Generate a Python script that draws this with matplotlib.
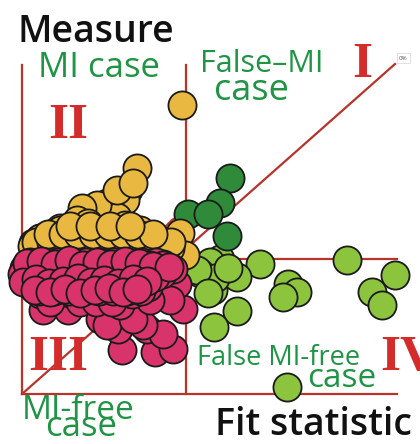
import matplotlib.pyplot as plt
import numpy as np

# quadrant scatter: measure vs fit statistic (units)
yellow_x = [160, 115, 106, 103, 85, 95, 75, 60, 55, 66, 78, 98, 115, 118, 61, 45, 31, 11, 120, 138,
            158, 163, 103, 26, 73, 88, 133, 148, 18, 38, 108, 95, 111,
            18, 33, 48, 63, 78, 93, 108, 123, 10, 25, 40, 55, 70, 85, 100, 115, 130, 145,
            38, 58, 78, 98, 118,
            14, 29, 44, 59, 74, 89, 104, 119, 134, 149,
            26, 41, 56, 71, 86, 101, 116, 131,
            48, 68, 88, 108]
yellow_y = [289, 226, 204, 194, 191, 177, 189, 186, 174, 171, 164, 159, 164, 151, 156, 154, 161, 151, 156, 154,
            161, 139, 169, 149, 149, 152, 144, 146, 156, 166, 146, 204, 211,
            156, 156, 156, 156, 156, 156, 156, 156, 148, 148, 148, 148, 148, 148, 148, 148, 148, 148,
            164, 164, 164, 164, 164,
            152, 152, 152, 152, 152, 152, 152, 152, 152, 152,
            160, 160, 160, 160, 160, 160, 160, 160,
            168, 168, 168, 168]

pink_x = [100, 133, 151, 96, 125, 141, 161, 136, 155, 151, 141, 46, 21, 78, 85, 121, 111, 148, 128, 98,
          8, 22, 36, 50, 64, 78, 92, 106, 120, 134,
          2, 16, 30, 44, 58, 72, 86, 100, 114, 128, 144,
          0, 13, 27, 41, 55, 69, 83, 97, 111, 125, 140,
          3, 17, 31, 45, 59, 73, 87, 101, 115, 129,
          10, 25, 40, 55, 70, 84, 98, 112, 126,
          18, 34, 50, 66, 82, 96, 110,
          28, 58, 74, 90,
          15, 29, 43, 57, 71, 85, 99, 113, 127, 141,
          9, 23, 37, 51, 65, 79, 93, 107, 121, 135,
          6, 20, 34, 48, 62, 76, 90, 104, 118, 133,
          10, 24, 38, 52, 66, 80, 94, 108, 122,
          17, 32, 47, 62, 77, 91, 105, 119,
          5, 19, 33, 47, 61, 75, 89, 103, 117, 131, 147,
          1, 14, 27, 41, 56, 69, 82, 96, 111, 125,
          13, 28, 43, 58, 73, 87, 101, 115]
pink_y = [44, 42, 45, 65, 65, 60, 85, 107, 110, 125, 130, 84, 84, 75, 69, 69, 75, 94, 94, 89,
          132, 132, 132, 132, 132, 132, 132, 132, 132, 132,
          126, 126, 126, 126, 126, 126, 126, 126, 126, 126, 126,
          120, 120, 120, 120, 120, 120, 120, 120, 120, 120, 120,
          114, 114, 114, 114, 114, 114, 114, 114, 114, 114,
          107, 107, 107, 107, 107, 107, 107, 107, 107,
          100, 100, 100, 100, 100, 100, 100,
          92, 92, 92, 92,
          129, 129, 129, 129, 129, 129, 129, 129, 129, 129,
          123, 123, 123, 123, 123, 123, 123, 123, 123, 123,
          117, 117, 117, 117, 117, 117, 117, 117, 117, 117,
          110, 110, 110, 110, 110, 110, 110, 110, 110,
          103, 103, 103, 103, 103, 103, 103, 103,
          131, 133, 130, 134, 129, 132, 130, 133, 131, 128, 127,
          112, 115, 111, 113, 116, 112, 114, 111, 115, 113,
          104, 102, 105, 101, 104, 106, 102, 105]

dgreen_x = [208, 198, 166, 186, 205]
dgreen_y = [216, 191, 180, 180, 158]

lgreen_x = [238, 325, 373, 350, 360, 266, 275, 261, 215, 191, 215, 192, 265, 198, 200, 188, 178, 193, 175, 186, 206]
lgreen_y = [130, 134, 119, 102, 89, 110, 102, 97, 117, 104, 83, 67, 7, 135, 125, 132, 121, 116, 124, 101, 126]

# quadrant frame
x_max, y_max = 375, 329
x_split, y_split = 164, 135
diag_end = (373, 330)
curve_x = [126, 138, 150, 160]
curve_y = [146, 162, 174, 180]

red = "#b8332a"
txt_green = "#1f9445"
num_red = "#d42b2b"
plt.rcParams["font.family"] = ["Open Sans", "DejaVu Sans"]

fig = plt.figure(figsize=(4.2, 4.44), dpi=100)
ax = fig.add_axes([0, 0, 1, 1])
ax.set_xlim(-22, 398)
ax.set_ylim(-50, 394)
ax.axis("off")

lw = 1.6
ax.plot([0, 0], [0, y_max], color=red, lw=lw, zorder=1)
ax.plot([0, x_max], [0, 0], color=red, lw=lw, zorder=1)
ax.plot([x_split, x_split], [0, y_max], color=red, lw=lw, zorder=1)
ax.plot([x_split, x_max], [y_split, y_split], color=red, lw=lw, zorder=1)
ax.plot([0, diag_end[0]], [0, diag_end[1]], color=red, lw=lw, zorder=1)
ax.plot(curve_x, curve_y, color=red, lw=lw, zorder=1)

ms = 410
ec = "#1a1a1a"
elw = 1.3
ax.scatter(lgreen_x, lgreen_y, s=ms, c="#8cc43e", edgecolors=ec, linewidths=elw, zorder=2)
ax.scatter(dgreen_x, dgreen_y, s=ms, c="#2f8a3a", edgecolors=ec, linewidths=elw, zorder=3)
ax.scatter(yellow_x, yellow_y, s=ms, c="#e8b840", edgecolors=ec, linewidths=elw, zorder=4)
ax.scatter(pink_x, pink_y, s=ms, c="#d8336b", edgecolors=ec, linewidths=elw, zorder=5)

# axis titles
ax.text(-5, 352, "Measure", fontsize=27, fontweight="semibold", color="#111111", va="baseline", ha="left")
ax.text(193, -41, "Fit statistic", fontsize=27, fontweight="semibold", color="#111111", va="baseline", ha="left")

# case labels
ax.text(16, 317, "MI case", fontsize=25, color=txt_green, va="baseline", ha="left")
ax.text(178, 322, "False\u2013MI", fontsize=22, color=txt_green, va="baseline", ha="left")
ax.text(192, 294, "case", fontsize=26, color=txt_green, va="baseline", ha="left")
ax.text(0, -25, "MI-free", fontsize=24, color=txt_green, va="baseline", ha="left")
ax.text(23, -42, "case", fontsize=25, color=txt_green, va="baseline", ha="left")
ax.text(175, 29, "False MI-free", fontsize=19.5, color=txt_green, va="baseline", ha="left")
ax.text(285, 7, "case", fontsize=24, color=txt_green, va="baseline", ha="left")

# quadrant numerals
for label, x, y in [("I", 330, 317), ("II", 26, 256), ("III", 6, 24), ("IV", 358, 24)]:
    ax.text(x, y, label, fontsize=37, color=num_red,
            family=["DejaVu Serif Condensed", "Liberation Serif"],
            fontweight="bold", va="baseline", ha="left")

ax.text(377, 333, "0%", fontsize=4.5, color="#555555", va="bottom", ha="left",
        bbox=dict(boxstyle="square,pad=0.4", fc="white", ec="#dddddd", lw=0.6), zorder=6)

fig.savefig("out.png", dpi=100)
